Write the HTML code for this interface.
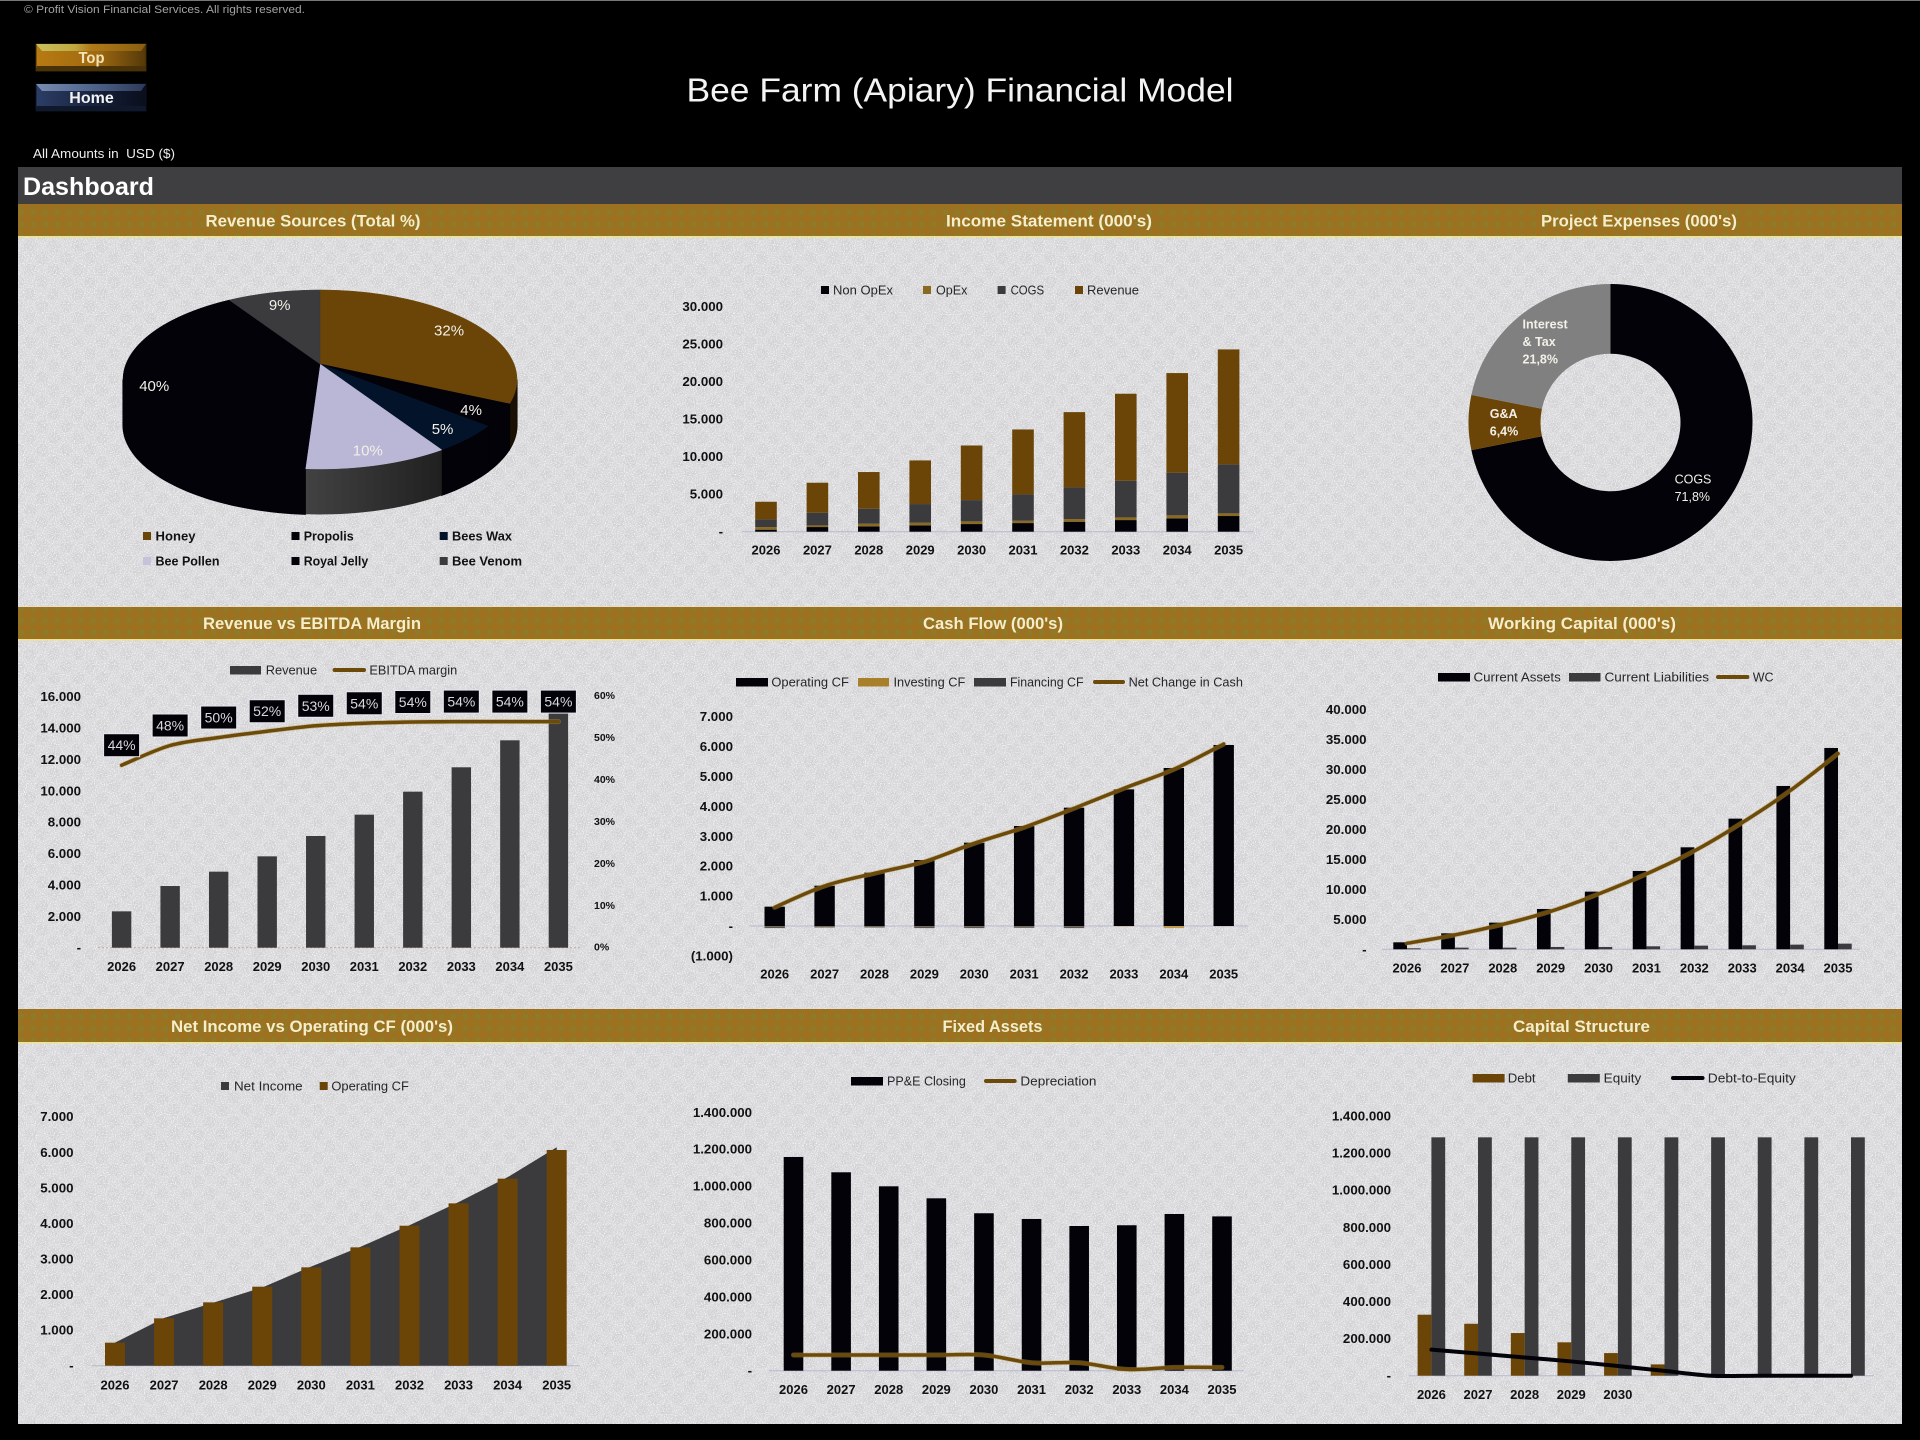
<!DOCTYPE html>
<html lang="en">
<head>
<meta charset="utf-8">
<title>Bee Farm (Apiary) Financial Model</title>
<style>
html,body{margin:0;padding:0;background:#000;width:1920px;height:1440px;overflow:hidden}
svg{display:block;font-family:"Liberation Sans",sans-serif}
.band-title{font-weight:bold;font-size:17px;fill:#f5eecb;text-anchor:middle;dominant-baseline:central}
.leg{font-size:13px;fill:#26262a;dominant-baseline:central}
.legb{font-size:13px;font-weight:bold;fill:#111;dominant-baseline:central}
</style>
</head>
<body>
<svg id="dashboard" xmlns="http://www.w3.org/2000/svg" width="1920" height="1440" viewBox="0 0 1920 1440">
<defs>
<pattern id="panelTex" width="24" height="24" patternUnits="userSpaceOnUse">
<rect width="24" height="24" fill="#d7d7da"/>
<circle cx="6" cy="6" r="6" fill="#d2d2d5"/><circle cx="18" cy="18" r="6" fill="#d2d2d5"/>
</pattern>
<filter id="dither" x="0" y="0" width="100%" height="100%">
<feTurbulence type="fractalNoise" baseFrequency="0.9" numOctaves="2" seed="3"/>
<feColorMatrix type="matrix" values="0 0 0 0 .96  0 0 0 0 .96  0 0 0 0 .98  3 0 0 0 -1.4"/>
</filter>
<pattern id="goldTex" width="12" height="12" patternUnits="userSpaceOnUse">
<rect width="12" height="12" fill="#997222"/>
<rect x="0" y="0" width="5" height="5" fill="#a0701f"/><rect x="7" y="6" width="5" height="5" fill="#8f7a28"/>
</pattern>
<linearGradient id="wallGrad" x1="0" x2="1" y1="0" y2="0"><stop offset="0" stop-color="#424242"/><stop offset="1" stop-color="#202020"/></linearGradient>
<linearGradient id="topBtn" x1="0" x2="1" y1="0" y2="0"><stop offset="0" stop-color="#b87a12"/><stop offset=".55" stop-color="#a06a10"/><stop offset="1" stop-color="#54390a"/></linearGradient>
<linearGradient id="homeBtn" x1="0" x2="1" y1="0" y2="0"><stop offset="0" stop-color="#2c3e66"/><stop offset=".6" stop-color="#141e36"/><stop offset="1" stop-color="#0a0e1c"/></linearGradient>
<linearGradient id="topBevel" x1="0" x2="1" y1="0" y2="0"><stop offset="0" stop-color="#c8c060"/><stop offset=".35" stop-color="#c0a840"/><stop offset=".5" stop-color="#b07a18"/><stop offset="1" stop-color="#8a5e10"/></linearGradient>
<linearGradient id="homeBevel" x1="0" x2="1" y1="0" y2="0"><stop offset="0" stop-color="#7a8cb0"/><stop offset=".5" stop-color="#51648c"/><stop offset="1" stop-color="#2c3a58"/></linearGradient>
</defs>

<rect width="1920" height="1440" fill="#000"/>
<rect x="0" y="0" width="1920" height="1" fill="#777"/>
<rect x="18" y="236" width="1884" height="1188" fill="url(#panelTex)"/>
<rect x="18" y="236" width="1884" height="1188" filter="url(#dither)"/>
<text x="24" y="10" font-size="11px" fill="#a2a2a2" dominant-baseline="central" textLength="281" lengthAdjust="spacingAndGlyphs">© Profit Vision Financial Services. All rights reserved.</text>

<g>
<rect x="36" y="44" width="110" height="27" fill="url(#topBtn)" stroke="#3a2a06"/>
<polygon points="36,44 146,44 141,51 42,51" fill="url(#topBevel)"/>
<polygon points="37,66 145,66 146,71 36,71" fill="#4a3208"/>
<text x="91.5" y="58.5" font-size="16px" font-weight="bold" fill="#f3e4b8" text-anchor="middle" dominant-baseline="central" textLength="26" lengthAdjust="spacingAndGlyphs">Top</text>
</g>
<g>
<rect x="36" y="84" width="110" height="27" fill="url(#homeBtn)" stroke="#0c1222"/>
<polygon points="36,84 146,84 141,91 42,91" fill="url(#homeBevel)"/>
<polygon points="37,106 145,106 146,111 36,111" fill="#10182c"/>
<text x="91.5" y="98.5" font-size="16px" font-weight="bold" fill="#f2f2f2" text-anchor="middle" dominant-baseline="central">Home</text>
</g>
<text x="960" y="90" font-size="33px" fill="#f4f4f4" text-anchor="middle" dominant-baseline="central" textLength="547" lengthAdjust="spacingAndGlyphs">Bee Farm (Apiary) Financial Model</text>
<text x="33" y="154" font-size="12.5px" fill="#eee" dominant-baseline="central" textLength="142" lengthAdjust="spacingAndGlyphs" xml:space="preserve">All Amounts in  USD ($)</text>

<rect x="18" y="167" width="1884" height="37" fill="#3f3f41"/>
<text x="23" y="187" font-size="25px" font-weight="bold" fill="#fff" dominant-baseline="central" textLength="131" lengthAdjust="spacingAndGlyphs">Dashboard</text>

<g>
<rect x="18" y="204" width="1884" height="32" fill="url(#goldTex)"/><rect x="18" y="236" width="1884" height="1.5" fill="#efe48e"/>
<text class="band-title" x="313" y="221" textLength="215" lengthAdjust="spacingAndGlyphs">Revenue Sources (Total %)</text>
<text class="band-title" x="1049" y="221" textLength="206" lengthAdjust="spacingAndGlyphs">Income Statement (000's)</text>
<text class="band-title" x="1639" y="221" textLength="196" lengthAdjust="spacingAndGlyphs">Project Expenses (000's)</text>
</g>
<g>
<rect x="18" y="606" width="1884" height="1" fill="#efdcc0"/><rect x="18" y="607" width="1884" height="32" fill="url(#goldTex)"/><rect x="18" y="639" width="1884" height="1.5" fill="#efe48e"/>
<text class="band-title" x="312" y="623.5" textLength="218" lengthAdjust="spacingAndGlyphs">Revenue vs EBITDA Margin</text>
<text class="band-title" x="993" y="623.5" textLength="140" lengthAdjust="spacingAndGlyphs">Cash Flow (000's)</text>
<text class="band-title" x="1582" y="623.5" textLength="188" lengthAdjust="spacingAndGlyphs">Working Capital (000's)</text>
</g>
<g>
<rect x="18" y="1009" width="1884" height="33" fill="url(#goldTex)"/><rect x="18" y="1042" width="1884" height="1.5" fill="#efe48e"/>
<text class="band-title" x="312" y="1026.5" textLength="282" lengthAdjust="spacingAndGlyphs">Net Income vs Operating CF (000's)</text>
<text class="band-title" x="992.5" y="1026.5" textLength="100" lengthAdjust="spacingAndGlyphs">Fixed Assets</text>
<text class="band-title" x="1581.5" y="1026.5" textLength="137" lengthAdjust="spacingAndGlyphs">Capital Structure</text>
</g>

<g id="pieChart"></g>
<g>
<g><rect x="143" y="532" width="8" height="8" fill="#6b4508"/><text class="legb" x="155.5" y="536" textLength="40" lengthAdjust="spacingAndGlyphs">Honey</text></g>
<g><rect x="291.5" y="532" width="8" height="8" fill="#020208"/><text class="legb" x="303.7" y="536" textLength="50" lengthAdjust="spacingAndGlyphs">Propolis</text></g>
<g><rect x="439.7" y="532" width="8" height="8" fill="#03142a"/><text class="legb" x="452" y="536" textLength="60" lengthAdjust="spacingAndGlyphs">Bees Wax</text></g>
<g><rect x="143" y="557" width="8" height="8" fill="#c4c2dc"/><text class="legb" x="155.5" y="561" textLength="64" lengthAdjust="spacingAndGlyphs">Bee Pollen</text></g>
<g><rect x="291.5" y="557" width="8" height="8" fill="#020208"/><text class="legb" x="303.7" y="561" textLength="64.5" lengthAdjust="spacingAndGlyphs">Royal Jelly</text></g>
<g><rect x="439.7" y="557" width="8" height="8" fill="#3b3b3d"/><text class="legb" x="452" y="561" textLength="70" lengthAdjust="spacingAndGlyphs">Bee Venom</text></g>
</g>

<g id="incomeChart"></g>
<g>
<g><rect x="821" y="286" width="8" height="8" fill="#020208"/><text class="leg" x="833" y="290" textLength="60" lengthAdjust="spacingAndGlyphs">Non OpEx</text></g>
<g><rect x="923" y="286" width="8" height="8" fill="#8a6a20"/><text class="leg" x="936" y="290" textLength="31.4" lengthAdjust="spacingAndGlyphs">OpEx</text></g>
<g><rect x="997.6" y="286" width="8" height="8" fill="#3b3b3d"/><text class="leg" x="1010.6" y="290" textLength="33.5" lengthAdjust="spacingAndGlyphs">COGS</text></g>
<g><rect x="1075" y="286" width="8" height="8" fill="#6b4508"/><text class="leg" x="1087" y="290" textLength="52" lengthAdjust="spacingAndGlyphs">Revenue</text></g>
</g>

<g id="donutChart"></g>

<g id="ebitdaChart"></g>
<g>
<g><rect x="230" y="666" width="31" height="8.5" fill="#3b3b3d"/><text class="leg" x="265.7" y="670" textLength="51.4" lengthAdjust="spacingAndGlyphs">Revenue</text></g>
<g><rect x="332.6" y="668" width="33.4" height="4" rx="2" fill="#6b4a0a"/><text class="leg" x="369.4" y="670" textLength="87.8" lengthAdjust="spacingAndGlyphs">EBITDA margin</text></g>
</g>

<g id="cashChart"></g>
<g>
<g><rect x="736" y="678" width="32" height="8.5" fill="#020208"/><text class="leg" x="771.4" y="682" textLength="77.5" lengthAdjust="spacingAndGlyphs">Operating CF</text></g>
<g><rect x="858" y="678" width="31" height="8.5" fill="#a8802c"/><text class="leg" x="893.5" y="682" textLength="71.8" lengthAdjust="spacingAndGlyphs">Investing CF</text></g>
<g><rect x="974" y="678" width="32" height="8.5" fill="#3b3b3d"/><text class="leg" x="1010" y="682" textLength="73.5" lengthAdjust="spacingAndGlyphs">Financing CF</text></g>
<g><rect x="1093" y="680" width="32" height="4" rx="2" fill="#6b4a0a"/><text class="leg" x="1128.6" y="682" textLength="114.3" lengthAdjust="spacingAndGlyphs">Net Change in Cash</text></g>
</g>

<g id="wcChart"></g>
<g>
<g><rect x="1438" y="673" width="32" height="8.5" fill="#020208"/><text class="leg" x="1473.5" y="677" textLength="87.3" lengthAdjust="spacingAndGlyphs">Current Assets</text></g>
<g><rect x="1569" y="673" width="31.5" height="8.5" fill="#3b3b3d"/><text class="leg" x="1604.5" y="677" textLength="104.5" lengthAdjust="spacingAndGlyphs">Current Liabilities</text></g>
<g><rect x="1716" y="675" width="33.4" height="4" rx="2" fill="#6b4a0a"/><text class="leg" x="1752.7" y="677" textLength="20.8" lengthAdjust="spacingAndGlyphs">WC</text></g>
</g>

<g id="netChart"></g>
<g>
<g><rect x="221" y="1082" width="8" height="8" fill="#3b3b3d"/><text class="leg" x="234" y="1086" textLength="68.6" lengthAdjust="spacingAndGlyphs">Net Income</text></g>
<g><rect x="319.7" y="1082" width="8" height="8" fill="#6b4508"/><text class="leg" x="331.4" y="1086" textLength="77.5" lengthAdjust="spacingAndGlyphs">Operating CF</text></g>
</g>

<g id="fixedChart"></g>
<g>
<g><rect x="851" y="1077" width="32" height="8.5" fill="#020208"/><text class="leg" x="887" y="1081" textLength="78.8" lengthAdjust="spacingAndGlyphs">PP&amp;E Closing</text></g>
<g><rect x="984" y="1079" width="32.7" height="4" rx="2" fill="#6b4a0a"/><text class="leg" x="1020.4" y="1081" textLength="76" lengthAdjust="spacingAndGlyphs">Depreciation</text></g>
</g>

<g id="capitalChart"></g>
<g>
<g><rect x="1472.6" y="1074" width="32" height="8.5" fill="#6b4508"/><text class="leg" x="1507.8" y="1078" textLength="27.8" lengthAdjust="spacingAndGlyphs">Debt</text></g>
<g><rect x="1567.8" y="1074" width="32" height="8.5" fill="#3b3b3d"/><text class="leg" x="1603.7" y="1078" textLength="37.6" lengthAdjust="spacingAndGlyphs">Equity</text></g>
<g><rect x="1671" y="1076" width="33.5" height="4" rx="2" fill="#020208"/><text class="leg" x="1707.8" y="1078" textLength="88" lengthAdjust="spacingAndGlyphs">Debt-to-Equity</text></g>
</g>
</svg>

<script>
// ---------- chart data ----------
const years = [2026, 2027, 2028, 2029, 2030, 2031, 2032, 2033, 2034, 2035];

const pieNames = ["Honey", "Propolis", "Bees Wax", "Bee Pollen", "Royal Jelly", "Bee Venom"];
const pieValues = [32, 4, 5, 10, 40, 9];

const incomeTicks = [0, 5000, 10000, 15000, 20000, 25000, 30000];
const incomeNonOpEx = [270, 620, 710, 840, 1020, 1150, 1330, 1550, 1780, 2090];
const incomeOpEx = [350, 220, 355, 355, 355, 310, 355, 355, 400, 355];
const incomeCogs = [1020, 1690, 2000, 2490, 2840, 3510, 4220, 4890, 5690, 6530];
const incomeRevenue = [2350, 4000, 4890, 5820, 7280, 8660, 10040, 11600, 13280, 15330];

const donutNames = ["COGS", "G&A", "Interest|& Tax"];
const donutValues = [71.8, 6.4, 21.8];

const ebitdaRevenueTicks = [0, 2000, 4000, 6000, 8000, 10000, 12000, 14000, 16000];
const ebitdaMarginTicks = [0, 10, 20, 30, 40, 50, 60];
const ebitdaRevenue = [2317, 3932, 4846, 5824, 7120, 8480, 9947, 11500, 13220, 15300];
const ebitdaMargin = [43.5, 48.2, 50.1, 51.6, 52.9, 53.5, 53.8, 53.9, 53.9, 53.9];

const cashTicks = [-1000, 0, 1000, 2000, 3000, 4000, 5000, 6000, 7000];
const cashOperating = [647, 1349, 1784, 2207, 2787, 3344, 3958, 4571, 5284, 6054];
const cashInvesting = [-10, -10, -10, -10, -10, -10, -10, -10, -70, -5];
const cashFinancing = [-70, -50, -50, -70, -70, -60, -70, 0, 0, 0];
const cashNet = [624, 1338, 1761, 2152, 2765, 3300, 3935, 4604, 5240, 6087];

const wcTicks = [0, 5000, 10000, 15000, 20000, 25000, 30000, 35000, 40000];
const wcAssets = [1167, 2667, 4444, 6722, 9611, 13056, 17000, 21778, 27222, 33556];
const wcLiabilities = [167, 278, 278, 389, 389, 500, 611, 667, 778, 944];
const wcNet = [1000, 2389, 4166, 6333, 9222, 12556, 16389, 21111, 26444, 32612];

const netTicks = [0, 1000, 2000, 3000, 4000, 5000, 6000, 7000];
const netIncome = [650, 1340, 1770, 2200, 2790, 3340, 3950, 4600, 5300, 6140];
const netOperating = [647, 1331, 1781, 2221, 2765, 3327, 3936, 4564, 5258, 6064];

const fixedTicks = [0, 200000, 400000, 600000, 800000, 1000000, 1200000, 1400000];
const fixedPpe = [1158000, 1075000, 999000, 934000, 853000, 822000, 784000, 788000, 849000, 836000];
const fixedDepreciation = [85000, 85000, 85000, 85000, 85000, 43000, 43000, 7000, 18000, 18000];

const capitalTicks = [0, 200000, 400000, 600000, 800000, 1000000, 1200000, 1400000];
const capitalYearLabels = [2026, 2027, 2028, 2029, 2030];
const capitalDebt = [329000, 280000, 230000, 180000, 122000, 61000, 0, 0, 0, 0];
const capitalEquity = [1285000, 1285000, 1285000, 1285000, 1285000, 1285000, 1285000, 1285000, 1285000, 1285000];
const capitalRatio = [0.256, 0.218, 0.179, 0.14, 0.095, 0.047, 0, 0, 0, 0];

// ---------- helpers ----------
const SVG_NS = 'http://www.w3.org/2000/svg';
const BROWN = '#6b4508', INK = '#020208', GREY = '#3b3b3d', AXIS = '#b8b8d0';

function mk(parent, tag, attrs) {
  const node = document.createElementNS(SVG_NS, tag);
  Object.keys(attrs).forEach(function (k) { node.setAttribute(k, attrs[k]); });
  parent.appendChild(node);
  return node;
}
function linear(d0, d1, r0, r1) {
  return function (v) { return r0 + (v - d0) * (r1 - r0) / (d1 - d0); };
}
function band(x0, xN, count) {
  return function (i) { return x0 + i * (xN - x0) / (count - 1); };
}
function fmt(v) {
  if (v === 0) return '-';
  const s = String(Math.abs(v)).replace(/\B(?=(\d{3})+$)/g, '.');
  return v < 0 ? '(' + s + ')' : s;
}
function yTicks(g, ticks, yFn, rightX) {
  ticks.forEach(function (t) {
    const el = mk(g, 'text', { x: rightX, y: yFn(t), 'text-anchor': 'end', 'dominant-baseline': 'central', 'font-size': '13.3px', 'font-weight': 'bold', fill: '#111' });
    
    
    el.textContent = fmt(t);
  });
}
function xLabels(g, labels, xFn, y) {
  labels.forEach(function (t, i) {
    const el = mk(g, 'text', { x: xFn(i), y: y, 'text-anchor': 'middle', 'dominant-baseline': 'central', 'font-size': '13px', 'font-weight': 'bold', fill: '#111' });
    
    
    el.textContent = t;
  });
}
function axisLine(g, x1, x2, y, dash) {
  const el = mk(g, 'line', { x1: x1, x2: x2, y1: y, y2: y, stroke: dash ? '#c8a890' : AXIS, 'stroke-width': 1, 'stroke-dasharray': dash ? '2 2' : 'none' });
  
  
}
function bars(g, name, values, xFn, yFn, width, offset, color, bases) {
  values.forEach(function (v, i) {
    const base = bases ? bases[i] : 0;
    const a = yFn(base), b = yFn(base + v);
    const el = mk(g, 'rect', { x: xFn(i) + offset, y: Math.min(a, b), width: width, height: Math.abs(a - b), fill: color });
    
    
  });
}
function smoothPath(pts) {
  let d = 'M' + pts[0][0] + ' ' + pts[0][1];
  for (let i = 0; i < pts.length - 1; i++) {
    const p0 = pts[Math.max(i - 1, 0)], p1 = pts[i], p2 = pts[i + 1], p3 = pts[Math.min(i + 2, pts.length - 1)];
    const t = 0.16;
    d += ' C' + (p1[0] + (p2[0] - p0[0]) * t) + ' ' + (p1[1] + (p2[1] - p0[1]) * t) + ' ' +
      (p2[0] - (p3[0] - p1[0]) * t) + ' ' + (p2[1] - (p3[1] - p1[1]) * t) + ' ' + p2[0] + ' ' + p2[1];
  }
  return d;
}
function trend(g, name, values, xFn, yFn, color, halo, width) {
  const pts = values.map(function (v, i) { return [xFn(i), yFn(v)]; });
  const d = smoothPath(pts);
  if (halo) {
    const h = mk(g, 'path', { d: d, fill: 'none', stroke: '#b89a50', 'stroke-width': width + 1.5, 'stroke-opacity': 0.45, 'stroke-linecap': 'round' });
    
    
  }
  const el = mk(g, 'path', { d: d, fill: 'none', stroke: color, 'stroke-width': width, 'stroke-linecap': 'round' });
  
  
  return pts;
}

// ---------- revenue sources 3D pie ----------
(function () {
  const g = document.getElementById('pieChart');
  const colors = [BROWN, INK, '#03142a', '#b9b6d6', INK, GREY];
  const walls = ['#1a1003', INK, INK, 'url(#wallGrad)', INK, '#202022'];
  const cx = 320, cy = 364, R = 194, Q = 86.8, P = 0.173, depth = 45.5;
  function proj(theta, f) {
    const u = f * Math.sin(theta), v = -f * Math.cos(theta), d = 1 - P * v;
    return [cx + R * u / d, cy + Q * v / d];
  }
  function sample(a0, a1) {
    const arc = [];
    const n = Math.max(3, Math.ceil((a1 - a0) / 0.03));
    for (let k = 0; k <= n; k++) arc.push(proj(a0 + (a1 - a0) * k / n, 1));
    return arc;
  }
  const total = pieValues.reduce(function (a, b) { return a + b; }, 0);
  let start = 0;
  const slices = pieValues.map(function (v) {
    const a0 = start, a1 = start + v / total * Math.PI * 2;
    start = a1;
    return { a0: a0, a1: a1, arc: sample(a0, a1) };
  });
  // only the front of the rim is visible: it runs between the two horizontal extremes of the top face
  const rimStart = Math.acos(-P), rimEnd = Math.PI * 2 - rimStart;
  slices.forEach(function (s, i) {
    const lo = Math.max(s.a0, rimStart), hi = Math.min(s.a1, rimEnd);
    if (hi <= lo) return;
    const rim = sample(lo, hi);
    const lower = rim.slice().reverse().map(function (p) { return p[0] + ' ' + (p[1] + depth); });
    const upper = rim.map(function (p) { return p[0] + ' ' + p[1]; });
    const el = mk(g, 'path', { d: 'M' + upper.concat(lower).join(' L') + ' Z', fill: walls[i], stroke: i === 3 ? 'none' : walls[i], 'stroke-width': 1.2 });
    
    
  });
  slices.forEach(function (s, i) {
    const pts = s.arc.map(function (p) { return p[0] + ' ' + p[1]; });
    const el = mk(g, 'path', { d: 'M' + cx + ' ' + cy + ' L' + pts.join(' L') + ' Z', fill: colors[i], stroke: colors[i], 'stroke-width': 0.5 });
    
    
  });
  slices.forEach(function (s, i) {
    const p = proj((s.a0 + s.a1) / 2, 0.85);
    const el = mk(g, 'text', { x: p[0], y: p[1] + 3.5, 'text-anchor': 'middle', 'dominant-baseline': 'central', 'font-size': '15px', fill: '#f2f0e8' });
    
    
    el.textContent = pieValues[i] + '%';
  });
})();

// ---------- income statement ----------
(function () {
  const g = document.getElementById('incomeChart');
  const x = band(766, 1228.6, years.length);
  const y = linear(0, 30000, 531.7, 306.7);
  const w = 21.6;
  yTicks(g, incomeTicks, y, 723);
  xLabels(g, years, x, 550);
  axisLine(g, 742, 1253, y(0));
  const base1 = incomeNonOpEx;
  const base2 = base1.map(function (v, i) { return v + incomeOpEx[i]; });
  const base3 = base2.map(function (v, i) { return v + incomeCogs[i]; });
  bars(g, 'non-opex', incomeNonOpEx, x, y, w, -w / 2, INK);
  bars(g, 'opex', incomeOpEx, x, y, w, -w / 2, '#8a6a20', base1);
  bars(g, 'cogs', incomeCogs, x, y, w, -w / 2, GREY, base2);
  bars(g, 'revenue', incomeRevenue, x, y, w, -w / 2, BROWN, base3);
})();

// ---------- project expenses donut ----------
(function () {
  const g = document.getElementById('donutChart');
  const colors = [INK, BROWN, '#808080'];
  const cx = 1610.5, cy = 422.5, rx = 142, ry = 138.5, ix = 70, iy = 68.7;
  const total = donutValues.reduce(function (a, b) { return a + b; }, 0);
  let start = 0;
  donutValues.forEach(function (v, i) {
    const a0 = start, a1 = start + v / total * Math.PI * 2;
    start = a1;
    const large = a1 - a0 > Math.PI ? 1 : 0;
    const d = 'M' + (cx + rx * Math.sin(a0)) + ' ' + (cy - ry * Math.cos(a0)) +
      ' A' + rx + ' ' + ry + ' 0 ' + large + ' 1 ' + (cx + rx * Math.sin(a1)) + ' ' + (cy - ry * Math.cos(a1)) +
      ' L' + (cx + ix * Math.sin(a1)) + ' ' + (cy - iy * Math.cos(a1)) +
      ' A' + ix + ' ' + iy + ' 0 ' + large + ' 0 ' + (cx + ix * Math.sin(a0)) + ' ' + (cy - iy * Math.cos(a0)) + ' Z';
    const el = mk(g, 'path', { d: d, fill: colors[i] });
    
    
    const mid = (a0 + a1) / 2;
    const lx = cx + 0.75 * rx * Math.sin(mid), ly = cy - 0.75 * ry * Math.cos(mid);
    const lines = donutNames[i].split('|').concat([v.toFixed(1).replace('.', ',') + '%']);
    const nodes = lines.map(function (line, k) {
      const t = mk(g, 'text', { y: ly + (k - (lines.length - 1) / 2) * 17.5, 'dominant-baseline': 'central', 'font-size': '12.5px', 'font-weight': i === 0 ? 'normal' : 'bold', fill: '#f2f0e8' });
      
      
      t.textContent = line;
      return t;
    });
    const widest = Math.max.apply(null, nodes.map(function (t) { return t.getComputedTextLength(); }));
    nodes.forEach(function (t) { t.setAttribute('x', lx - widest / 2 + (i === 2 ? 2 : 0)); });
  });
})();

// ---------- revenue vs EBITDA margin ----------
(function () {
  const g = document.getElementById('ebitdaChart');
  const x = band(121.6, 558.4, years.length);
  const y = linear(0, 16000, 947.7, 696.7);
  const y2 = linear(0, 60, 947.7, 696);
  yTicks(g, ebitdaRevenueTicks, y, 81);
  ebitdaMarginTicks.forEach(function (t) {
    const el = mk(g, 'text', { x: 594, y: y2(t), 'dominant-baseline': 'central', 'font-size': '10.5px', 'font-weight': 'bold', fill: '#111' });
    
    
    el.textContent = t + '%';
  });
  xLabels(g, years, x, 966.7);
  axisLine(g, 98, 580, y(0), true);
  bars(g, 'revenue', ebitdaRevenue, x, y, 19.4, -9.7, GREY);
  trend(g, 'ebitda-margin', ebitdaMargin, x, y2, '#6b4a0a', true, 3.5);
  ebitdaMargin.forEach(function (v, i) {
    const box = mk(g, 'rect', { x: x(i) - 18, y: y2(v) - 31.5, width: 36, height: 23, fill: INK, stroke: '#e8e8f0', 'stroke-width': 1 });
    
    
    const t = mk(g, 'text', { x: x(i), y: y2(v) - 20, 'text-anchor': 'middle', 'dominant-baseline': 'central', 'font-size': '14px', fill: '#d8d8dc' });
    
    
    t.textContent = Math.round(v) + '%';
  });
})();

// ---------- cash flow ----------
(function () {
  const g = document.getElementById('cashChart');
  const x = band(774.7, 1223.7, years.length);
  const y = linear(0, 7000, 926, 716.7);
  const w = 20.4;
  yTicks(g, cashTicks, y, 733);
  xLabels(g, years, x, 974);
  axisLine(g, 749, 1248, y(0));
  bars(g, 'operating-cf', cashOperating, x, y, w, -w / 2, INK);
  bars(g, 'financing-cf', cashFinancing, x, y, w, -w / 2, '#55555a');
  bars(g, 'investing-cf', cashInvesting, x, y, w, -w / 2, '#c09a50');
  trend(g, 'net-change', cashNet, x, y, '#6b4a0a', true, 3.5);
})();

// ---------- working capital ----------
(function () {
  const g = document.getElementById('wcChart');
  const x = band(1407, 1838, years.length);
  const y = linear(0, 40000, 949.3, 709.3);
  const w = 13.7;
  yTicks(g, wcTicks, y, 1366.5);
  xLabels(g, years, x, 968);
  axisLine(g, 1382, 1860, y(0));
  bars(g, 'current-assets', wcAssets, x, y, w, -w, INK);
  bars(g, 'current-liabilities', wcLiabilities, x, y, w, 0, GREY);
  trend(g, 'working-capital', wcNet, x, y, '#6b4a0a', true, 3.5);
})();

// ---------- net income vs operating CF ----------
(function () {
  const g = document.getElementById('netChart');
  const x = band(115, 556.7, years.length);
  const y = linear(0, 7000, 1365.7, 1116.7);
  const w = 20;
  yTicks(g, netTicks, y, 73.5);
  xLabels(g, years, x, 1385);
  axisLine(g, 92, 580, y(0));
  const top = netIncome.map(function (v, i) { return x(i) + ' ' + y(v); });
  const area = mk(g, 'path', { d: 'M' + x(0) + ' ' + y(0) + ' L' + top.join(' L') + ' L' + x(netIncome.length - 1) + ' ' + y(0) + ' Z', fill: GREY });
  
  
  bars(g, 'operating-cf', netOperating, x, y, w, -w / 2, BROWN);
})();

// ---------- fixed assets ----------
(function () {
  const g = document.getElementById('fixedChart');
  const x = band(793.5, 1222, years.length);
  const y = linear(0, 1400000, 1370.7, 1112.3);
  yTicks(g, fixedTicks, y, 752);
  xLabels(g, years, x, 1389.7);
  axisLine(g, 768.6, 1244, y(0));
  bars(g, 'ppe-closing', fixedPpe, x, y, 19.6, -9.8, INK);
  trend(g, 'depreciation', fixedDepreciation, x, y, '#6b4a0a', true, 3.5);
})();

// ---------- capital structure ----------
(function () {
  const g = document.getElementById('capitalChart');
  const x = band(1431.4, 1851, years.length);
  const y = linear(0, 1400000, 1375.7, 1116);
  const yRatio = linear(0, 2.55, 1375.7, 1116);
  const w = 13.8;
  yTicks(g, capitalTicks, y, 1391);
  xLabels(g, capitalYearLabels, x, 1394.7);
  axisLine(g, 1408.6, 1874, y(0));
  bars(g, 'debt', capitalDebt, x, y, w, -w, BROWN);
  bars(g, 'equity', capitalEquity, x, y, w, 0, GREY);
  trend(g, 'debt-to-equity', capitalRatio, x, yRatio, INK, false, 4);
})();
</script>
</body>
</html>
